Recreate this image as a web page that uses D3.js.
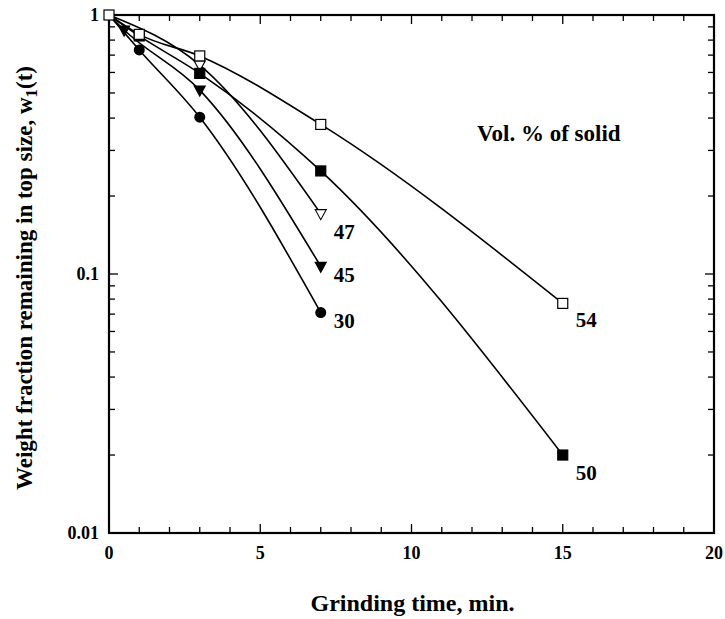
<!DOCTYPE html>
<html>
<head>
<meta charset="utf-8">
<script src="https://cdn.jsdelivr.net/npm/d3@7"></script>
<style>
  body { margin: 0; background: #fff; }
  text { font-family: "Liberation Serif", "DejaVu Serif", serif; font-weight: bold; fill: #000; }
</style>
</head>
<body>
<script>
// grinding data, weight fraction left in top size
const s54 = [[0, 1], [1, 0.842], [3, 0.695], [7, 0.378], [15, 0.077]];
const s50 = [[0, 1], [1, 0.83], [3, 0.595], [7, 0.25], [15, 0.020]];
const s47 = [[0, 1], [3, 0.641], [7, 0.171]];
const s45 = [[0, 1], [0.5, 0.875], [3, 0.513], [7, 0.107]];
const s30 = [[0, 1], [1, 0.733], [3, 0.403], [7, 0.071]];
const seriesNames = ["54", "50", "47", "45", "30"];
const xTicks = [0, 5, 10, 15, 20];
const yTicks = [1, 0.1, 0.01];

const width = 725, height = 619;
const margin = {left: 109, right: 11, top: 15, bottom: 86};

const svg = d3.select("body").append("svg")
  .attr("width", width)
  .attr("height", height);

const x = d3.scaleLinear().domain([0, 20]).range([margin.left, width - margin.right]);
const y = d3.scaleLog().domain([0.01, 1]).range([height - margin.bottom, margin.top]);

// minor ticks
const xMinor = d3.range(0, 21);
const yMinor = [];
[0.01, 0.1].forEach(d => { for (let k = 2; k <= 9; k++) yMinor.push(d * k); });

const ax = svg.append("g").attr("stroke", "#000");

// frame ticks (inside)
ax.selectAll(".xt").data(xMinor).join("line")
  .attr("x1", d => x(d)).attr("x2", d => x(d))
  .attr("y1", y(0.01)).attr("y2", d => y(0.01) - (d % 5 == 0 ? 9 : 6))
  .attr("stroke-width", 1.3);
ax.selectAll(".xt2").data(xMinor).join("line")
  .attr("x1", d => x(d)).attr("x2", d => x(d))
  .attr("y1", y(1)).attr("y2", d => y(1) + (d % 5 == 0 ? 9 : 6))
  .attr("stroke-width", 1.3);
ax.selectAll(".yt").data(yMinor.concat(yTicks)).join("line")
  .attr("y1", d => y(d)).attr("y2", d => y(d))
  .attr("x1", x(0)).attr("x2", d => x(0) + (yTicks.includes(d) ? 9 : 6))
  .attr("stroke-width", 1.3);
ax.selectAll(".yt2").data(yMinor.concat(yTicks)).join("line")
  .attr("y1", d => y(d)).attr("y2", d => y(d))
  .attr("x1", x(20)).attr("x2", d => x(20) - (yTicks.includes(d) ? 9 : 6))
  .attr("stroke-width", 1.3);

svg.append("rect")
  .attr("x", x(0)).attr("y", y(1))
  .attr("width", x(20) - x(0)).attr("height", y(0.01) - y(1))
  .attr("fill", "none").attr("stroke", "#000").attr("stroke-width", 2.2);

// tick labels
svg.selectAll(".xl").data(xTicks).join("text")
  .attr("x", d => x(d)).attr("y", y(0.01) + 26)
  .attr("text-anchor", "middle").attr("font-size", 18)
  .text(d => d);
svg.selectAll(".yl").data(yTicks).join("text")
  .attr("x", x(0) - 10).attr("y", d => y(d) + 6)
  .attr("text-anchor", "end").attr("font-size", 18)
  .text(d => d);

// titles
svg.append("text")
  .attr("x", (x(0) + x(20)) / 2 + 1).attr("y", 611)
  .attr("text-anchor", "middle").attr("font-size", 24)
  .text("Grinding time, min.");

const yt = svg.append("text")
  .attr("transform", "translate(32," + ((y(1) + y(0.01)) / 2 + 4) + ") rotate(-90)")
  .attr("text-anchor", "middle").attr("font-size", 23);
yt.append("tspan").text("Weight fraction remaining in top size, w");
yt.append("tspan").attr("dy", 5).attr("font-size", 17).text("1");
yt.append("tspan").attr("dy", -5).text("(t)");

// curves
const line = d3.line()
  .x(d => x(d[0])).y(d => y(d[1]))
  .curve(d3.curveMonotoneX);

const all = [s54, s50, s47, s45, s30];
svg.append("g").selectAll("path").data(all).join("path")
  .attr("d", line)
  .attr("fill", "none").attr("stroke", "#000").attr("stroke-width", 1.6);

// markers
function squares(data, filled) {
  svg.append("g").selectAll("rect").data(data).join("rect")
    .attr("x", d => x(d[0]) - 5).attr("y", d => y(d[1]) - 5)
    .attr("width", 10).attr("height", 10)
    .attr("fill", filled ? "#000" : "#fff")
    .attr("stroke", "#000").attr("stroke-width", 1.2);
}
function triangles(data, filled) {
  svg.append("g").selectAll("path").data(data.slice(1)).join("path")
    .attr("d", d => {
      const cx = x(d[0]), cy = y(d[1]);
      return `M${cx - 5.5},${cy - 4}L${cx + 5.5},${cy - 4}L${cx},${cy + 6}Z`;
    })
    .attr("fill", filled ? "#000" : "#fff")
    .attr("stroke", "#000").attr("stroke-width", 1.1);
}
triangles(s47, false);
triangles(s45, true);
svg.append("g").selectAll("circle").data(s30.slice(1)).join("circle")
  .attr("cx", d => x(d[0])).attr("cy", d => y(d[1])).attr("r", 5.5)
  .attr("fill", "#000");
squares(s50.slice(1), true);
squares(s54, false);

// series labels
const lastPts = [s54, s50, s47, s45, s30].map(s => s[s.length - 1]);
const labOff = [24, 25, 25, 16, 15];
svg.selectAll(".sl").data(lastPts).join("text")
  .attr("x", d => x(d[0]) + 13)
  .attr("y", (d, i) => y(d[1]) + labOff[i])
  .attr("font-size", 21)
  .text((d, i) => seriesNames[i]);

svg.append("text")
  .attr("x", 477).attr("y", 141)
  .attr("font-size", 23)
  .text("Vol. % of solid");
</script>
</body>
</html>
